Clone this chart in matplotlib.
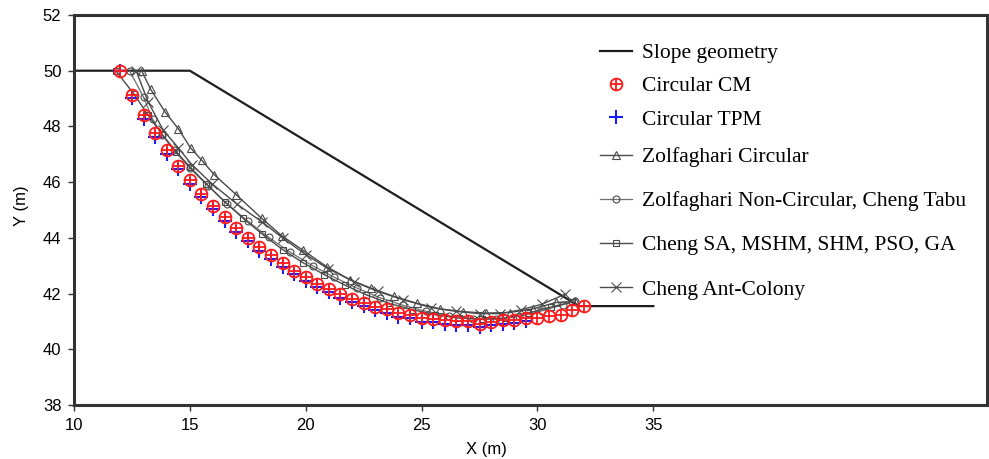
import matplotlib
matplotlib.use("Agg")
import matplotlib.pyplot as plt
from matplotlib.legend_handler import HandlerTuple

# slope geometry
slope_x = [10.0, 15.0, 31.8, 35.0]
slope_y = [50.0, 50.0, 41.55, 41.55]

# circular CM (red)
cm_x = [12.0, 12.5, 13.0, 13.5, 14.0, 14.5, 15.0, 15.5, 16.0, 16.5, 17.0, 17.5, 18.0, 18.5,
        19.0, 19.5, 20.0, 20.5, 21.0, 21.5, 22.0, 22.5, 23.0, 23.5, 24.0, 24.5, 25.0, 25.5,
        26.0, 26.5, 27.0, 27.5, 28.0, 28.5, 29.0, 29.5, 30.0, 30.5, 31.0, 31.5, 32.0]
cm_y = [50.0, 49.14, 48.40, 47.76, 47.14, 46.59, 46.06, 45.59, 45.16, 44.75, 44.34, 44.00, 43.67, 43.37,
        43.08, 42.82, 42.58, 42.36, 42.17, 41.98, 41.81, 41.67, 41.53, 41.45, 41.30, 41.24, 41.12, 41.10,
        41.04, 41.00, 41.00, 40.92, 40.98, 41.04, 41.06, 41.12, 41.12, 41.18, 41.24, 41.42, 41.56]

# circular TPM (blue)
tpm_x = [12.0, 12.5, 13.0, 13.5, 14.0, 14.5, 15.0, 15.5, 16.0, 16.5, 17.0, 17.5, 18.0, 18.5,
         19.0, 19.5, 20.0, 20.5, 21.0, 21.5, 22.0, 22.5, 23.0, 23.5, 24.0, 24.5, 25.0, 25.5,
         26.0, 26.5, 27.0, 27.5, 28.0, 28.5, 29.0, 29.5]
tpm_y = [50.0, 49.02, 48.27, 47.63, 47.01, 46.46, 45.93, 45.46, 45.03, 44.62, 44.21, 43.87, 43.54, 43.24,
         42.95, 42.69, 42.45, 42.23, 42.04, 41.85, 41.68, 41.54, 41.40, 41.32, 41.17, 41.11, 40.99, 40.97,
         40.91, 40.87, 40.87, 40.80, 40.86, 40.92, 40.95, 41.01]

# Zolfaghari circular (triangles)
zc_x = [12.92, 13.31, 13.93, 14.5, 15.03, 15.51, 16.05, 17.0, 18.1, 18.96, 19.89, 20.9, 21.9, 22.8,
        23.8, 24.8, 25.8, 26.8, 27.8, 28.8, 29.8, 30.8, 31.6]
zc_y = [50.0, 49.33, 48.52, 47.92, 47.23, 46.79, 46.27, 45.55, 44.70, 44.08, 43.55, 42.97, 42.50, 42.20,
        41.90, 41.65, 41.45, 41.35, 41.30, 41.32, 41.45, 41.68, 41.72]

# Zolfaghari non-circular, Cheng Tabu (circles)
znc_x = [12.4, 13.0, 13.4, 13.8, 14.3, 15.0, 15.8, 16.6, 17.5, 18.4, 19.3, 20.3, 21.2, 22.2,
         23.2, 24.2, 25.2, 26.2, 27.2, 28.2, 29.2, 30.2, 31.1, 31.6]
znc_y = [50.0, 49.05, 48.25, 47.70, 47.15, 46.50, 45.85, 45.22, 44.60, 44.02, 43.50, 43.00, 42.60, 42.20,
         41.85, 41.58, 41.36, 41.20, 41.10, 41.08, 41.18, 41.38, 41.60, 41.72]

# Cheng SA, MSHM, SHM, PSO, GA (squares)
sa_x = [11.8, 12.6, 13.2, 13.8, 14.4, 15.0, 15.7, 16.5, 17.3, 18.1, 19.0, 19.9, 20.8, 21.7,
        22.6, 23.6, 24.6, 25.6, 26.6, 27.6, 28.6, 29.6, 30.6, 31.5]
sa_y = [50.0, 49.15, 48.40, 47.72, 47.10, 46.55, 45.95, 45.30, 44.70, 44.15, 43.58, 43.10, 42.68, 42.30,
        41.96, 41.65, 41.42, 41.24, 41.12, 41.08, 41.12, 41.30, 41.52, 41.70]

# Cheng ant-colony (x marks)
ac_x = [12.68, 13.2, 13.85, 14.5, 15.08, 15.94, 17.05, 18.1, 19.0, 20.0, 20.95, 22.1, 23.1, 24.2,
        25.4, 26.5, 27.5, 28.4, 29.3, 30.2, 31.2]
ac_y = [50.0, 48.88, 47.87, 47.23, 46.63, 45.95, 45.20, 44.58, 44.00, 43.40, 42.90, 42.42, 42.08, 41.78,
        41.50, 41.36, 41.28, 41.28, 41.42, 41.62, 41.98]

gray = "#4a4a4a"

fig = plt.figure(figsize=(9.89, 4.59), dpi=100)
ax = fig.add_axes([74 / 989, 54 / 459, 913 / 989, 390 / 459])

h_slope, = ax.plot(slope_x, slope_y, color="#1e1e1e", lw=1.6, zorder=2)
h_zc, = ax.plot(zc_x, zc_y, color=gray, lw=1.0, marker="^", ms=5.5, mfc="none", mec=gray, mew=0.8)
h_znc, = ax.plot(znc_x, znc_y, color="#707070", lw=0.9, marker="o", ms=5, mfc="none", mec=gray, mew=0.8)
h_sa, = ax.plot(sa_x, sa_y, color=gray, lw=1.0, marker="s", ms=5, mfc="none", mec=gray, mew=0.8)
h_ac, = ax.plot(ac_x, ac_y, color=gray, lw=1.0, marker="x", ms=6.5, mec=gray, mew=0.8)
h_tpm, = ax.plot(tpm_x, tpm_y, ls="none", marker="+", ms=9.5, mew=1.5, color="#1a1aff", zorder=4)
h_cm1, = ax.plot(cm_x, cm_y, ls="none", marker="o", ms=8.5, mfc="none", mec="#ff1a1a", mew=1.3, zorder=5)
h_cm2, = ax.plot(cm_x, cm_y, ls="none", marker="+", ms=8.5, mew=1.3, color="#ff1a1a", zorder=5)

ax.set_xlim(10, 49.4)
ax.set_ylim(38, 52)
ax.set_xticks([10, 15, 20, 25, 30, 35])
ax.set_yticks([38, 40, 42, 44, 46, 48, 50, 52])

tick_font = "Liberation Sans"
for lab in ax.get_xticklabels() + ax.get_yticklabels():
    lab.set_family(tick_font)
    lab.set_fontsize(12)
ax.tick_params(direction="out", length=4, width=1, color="#333333", pad=5)
for sp in ax.spines.values():
    sp.set_linewidth(2.2)
    sp.set_color("#333333")

ax.set_xlabel("X (m)", family=tick_font, fontsize=12)
ax.set_ylabel("Y (m)", family=tick_font, fontsize=12)
ax.xaxis.set_label_coords(0.452, -0.095)
ax.yaxis.set_label_coords(-0.049, 0.51)

leg_font = {"family": "Liberation Serif", "size": 15.5}
leg_kw = dict(loc="upper left", bbox_transform=fig.transFigure, frameon=False, prop=leg_font,
              borderpad=0, borderaxespad=0, handlelength=1.5, handletextpad=0.45, numpoints=1)
leg1 = ax.legend([h_slope, (h_cm1, h_cm2), h_tpm],
                 ["Slope geometry", "Circular CM", "Circular TPM"],
                 handler_map={tuple: HandlerTuple(ndivide=1)},
                 bbox_to_anchor=(600 / 989, 1 - 43 / 459), labelspacing=0.62, **leg_kw)
ax.add_artist(leg1)
ax.legend([h_zc, h_znc, h_sa, h_ac],
          ["Zolfaghari Circular", "Zolfaghari Non-Circular, Cheng Tabu",
           "Cheng SA, MSHM, SHM, PSO, GA", "Cheng Ant-Colony"],
          bbox_to_anchor=(600 / 989, 1 - 147 / 459), labelspacing=1.12, **leg_kw)

fig.savefig("out.png", dpi=100)
